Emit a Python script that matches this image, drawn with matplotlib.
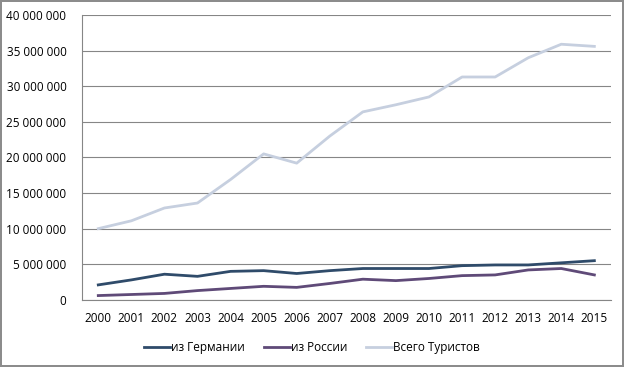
import numpy as np
import matplotlib
matplotlib.use("Agg")
import matplotlib.pyplot as plt
from matplotlib.ticker import FuncFormatter

# Годы и значения (млн)
years = list(range(2000, 2016))
germany = [2.1, 2.8, 3.6, 3.3, 4.0, 4.1, 3.7, 4.1, 4.4, 4.4, 4.4, 4.8, 4.9, 4.9, 5.2, 5.5]
russia = [0.6, 0.75, 0.9, 1.3, 1.6, 1.9, 1.75, 2.3, 2.9, 2.7, 3.0, 3.4, 3.5, 4.2, 4.4, 3.5]
total = [10.0, 11.1, 12.9, 13.6, 16.9, 20.5, 19.2, 23.0, 26.4, 27.4, 28.5, 31.3, 31.3, 34.0, 35.9, 35.6]
labels = ["из Германии", "из России", "Всего Туристов"]
colors = ["#2f4b6a", "#5f4a78", "#c6cfdf"]

plt.rcParams['font.family'] = ['Open Sans', 'DejaVu Sans']

fig = plt.figure(figsize=(6.24, 3.67), dpi=100)
fig.patch.set_edgecolor("#8c8c8c")
fig.patch.set_linewidth(1.5)
ax = fig.add_axes([0.131, 0.183, 0.848, 0.776])

x = np.arange(len(years))
for vals, lab, col in zip([germany, russia, total], labels, colors):
    ax.plot(x, np.array(vals) * 1e6, color=col, lw=2, label=lab)

ax.set_ylim(0, 40e6)
ax.set_yticks(np.arange(0, 40e6 + 1, 5e6))
ax.yaxis.set_major_formatter(FuncFormatter(lambda v, p: "{:,.0f}".format(v).replace(",", " ")))
ax.set_xlim(-0.5, len(years) - 0.5)
ax.set_xticks(x)
ax.set_xticklabels([str(y) for y in years])
ax.grid(axis="y", color="#868686", lw=0.8)
ax.set_axisbelow(True)
for s in ["top", "right"]:
    ax.spines[s].set_visible(False)
ax.spines["left"].set_color("#868686")
ax.spines["bottom"].set_color("#868686")
ax.tick_params(length=0, labelsize=8.5, pad=9)
ax.tick_params(axis="y", pad=11)

fig.legend(loc="center", bbox_to_anchor=(0.5, 0.053), ncol=3, frameon=False,
           fontsize=8.5, handlelength=2.2, columnspacing=1.6, handletextpad=0.1)

fig.savefig("out.png", dpi=100)
